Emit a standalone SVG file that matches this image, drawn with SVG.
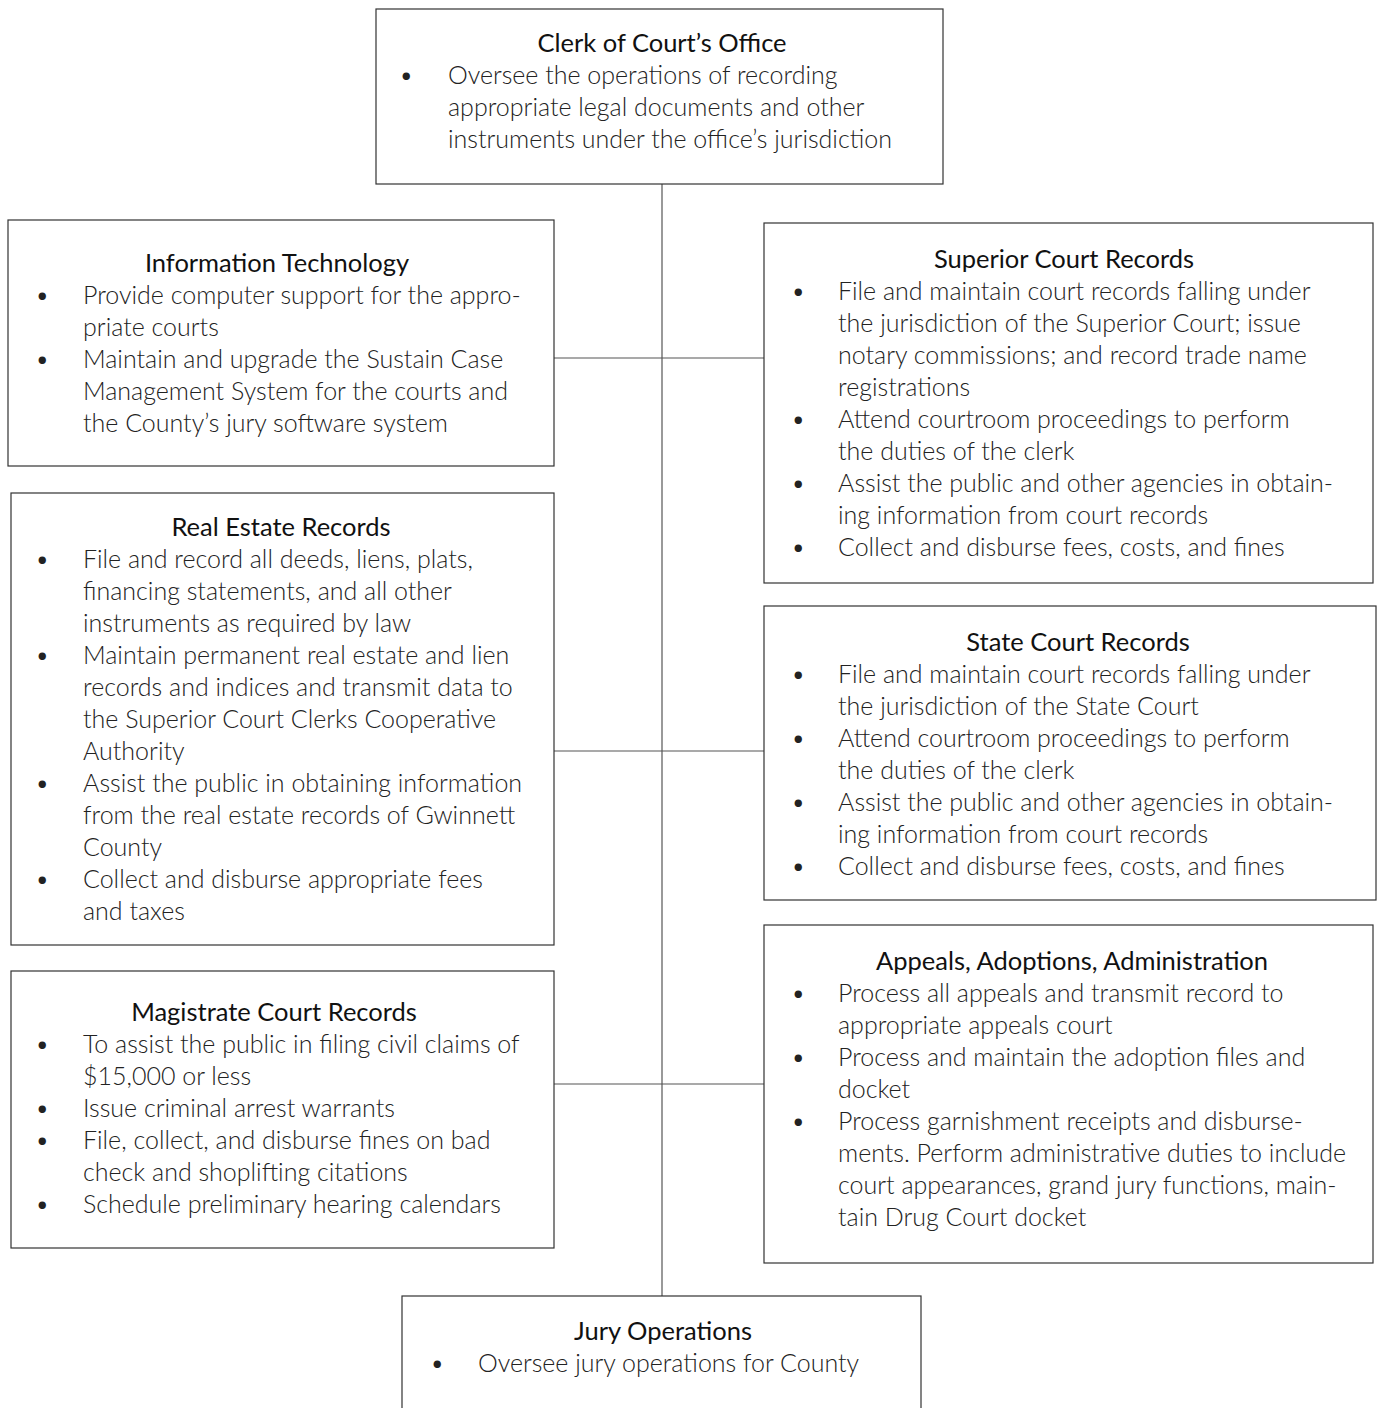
<svg xmlns="http://www.w3.org/2000/svg" width="1377" height="1408" viewBox="0 0 1377 1408">
  <style>
    .box { fill: #ffffff; stroke: #333333; stroke-width: 1.2; }
    .link { stroke: #555555; stroke-width: 1.2; fill: none; }
    .title { font-family: Lato, "Liberation Sans", sans-serif; font-size: 25.5px; fill: #111111; text-anchor: middle; }
    .body { font-family: Lato, "Liberation Sans", sans-serif; font-weight: 300; font-size: 25px; fill: #222222; }
  </style>
  <rect width="1377" height="1408" fill="#ffffff"/>

  <!-- connectors -->
  <g id="connectors">
    <line class="link" x1="662" y1="184" x2="662" y2="1296"/>
    <line class="link" x1="554" y1="358" x2="764" y2="358"/>
    <line class="link" x1="554" y1="751" x2="764" y2="751"/>
    <line class="link" x1="554" y1="1084" x2="764" y2="1084"/>
  </g>

  <g id="clerk">
    <rect class="box" x="376" y="9" width="567" height="175"/>
    <text class="title" x="662" y="52">Clerk of Court’s Office</text>
    <text class="body" x="399" y="84">•</text>
    <text class="body" x="448" y="84">Oversee the operations of recording</text>
    <text class="body" x="448" y="116">appropriate legal documents and other</text>
    <text class="body" x="448" y="148">instruments under the office’s jurisdiction</text>
  </g>

  <g id="info-tech">
    <rect class="box" x="8" y="220" width="546" height="246"/>
    <text class="title" x="277" y="272">Information Technology</text>
    <text class="body" x="35" y="304">•</text>
    <text class="body" x="83" y="304">Provide computer support for the appro-</text>
    <text class="body" x="83" y="336">priate courts</text>
    <text class="body" x="35" y="368">•</text>
    <text class="body" x="83" y="368">Maintain and upgrade the Sustain Case</text>
    <text class="body" x="83" y="400">Management System for the courts and</text>
    <text class="body" x="83" y="432">the County’s jury software system</text>
  </g>

  <g id="real-estate">
    <rect class="box" x="11" y="493" width="543" height="452"/>
    <text class="title" x="281" y="536">Real Estate Records</text>
    <text class="body" x="35" y="568">•</text>
    <text class="body" x="83" y="568">File and record all deeds, liens, plats,</text>
    <text class="body" x="83" y="600">financing statements, and all other</text>
    <text class="body" x="83" y="632">instruments as required by law</text>
    <text class="body" x="35" y="664">•</text>
    <text class="body" x="83" y="664">Maintain permanent real estate and lien</text>
    <text class="body" x="83" y="696">records and indices and transmit data to</text>
    <text class="body" x="83" y="728">the Superior Court Clerks Cooperative</text>
    <text class="body" x="83" y="760">Authority</text>
    <text class="body" x="35" y="792">•</text>
    <text class="body" x="83" y="792">Assist the public in obtaining information</text>
    <text class="body" x="83" y="824">from the real estate records of Gwinnett</text>
    <text class="body" x="83" y="856">County</text>
    <text class="body" x="35" y="888">•</text>
    <text class="body" x="83" y="888">Collect and disburse appropriate fees</text>
    <text class="body" x="83" y="920">and taxes</text>
  </g>

  <g id="magistrate">
    <rect class="box" x="11" y="971" width="543" height="277"/>
    <text class="title" x="274" y="1021">Magistrate Court Records</text>
    <text class="body" x="35" y="1053">•</text>
    <text class="body" x="83" y="1053">To assist the public in filing civil claims of</text>
    <text class="body" x="83" y="1085">$15,000 or less</text>
    <text class="body" x="35" y="1117">•</text>
    <text class="body" x="83" y="1117">Issue criminal arrest warrants</text>
    <text class="body" x="35" y="1149">•</text>
    <text class="body" x="83" y="1149">File, collect, and disburse fines on bad</text>
    <text class="body" x="83" y="1181">check and shoplifting citations</text>
    <text class="body" x="35" y="1213">•</text>
    <text class="body" x="83" y="1213">Schedule preliminary hearing calendars</text>
  </g>

  <g id="superior">
    <rect class="box" x="764" y="223" width="609" height="360"/>
    <text class="title" x="1064" y="268">Superior Court Records</text>
    <text class="body" x="791" y="300">•</text>
    <text class="body" x="838" y="300">File and maintain court records falling under</text>
    <text class="body" x="838" y="332">the jurisdiction of the Superior Court; issue</text>
    <text class="body" x="838" y="364">notary commissions; and record trade name</text>
    <text class="body" x="838" y="396">registrations</text>
    <text class="body" x="791" y="428">•</text>
    <text class="body" x="838" y="428">Attend courtroom proceedings to perform</text>
    <text class="body" x="838" y="460">the duties of the clerk</text>
    <text class="body" x="791" y="492">•</text>
    <text class="body" x="838" y="492">Assist the public and other agencies in obtain-</text>
    <text class="body" x="838" y="524">ing information from court records</text>
    <text class="body" x="791" y="556">•</text>
    <text class="body" x="838" y="556">Collect and disburse fees, costs, and fines</text>
  </g>

  <g id="state">
    <rect class="box" x="764" y="606" width="612" height="294"/>
    <text class="title" x="1078" y="651">State Court Records</text>
    <text class="body" x="791" y="683">•</text>
    <text class="body" x="838" y="683">File and maintain court records falling under</text>
    <text class="body" x="838" y="715">the jurisdiction of the State Court</text>
    <text class="body" x="791" y="747">•</text>
    <text class="body" x="838" y="747">Attend courtroom proceedings to perform</text>
    <text class="body" x="838" y="779">the duties of the clerk</text>
    <text class="body" x="791" y="811">•</text>
    <text class="body" x="838" y="811">Assist the public and other agencies in obtain-</text>
    <text class="body" x="838" y="843">ing information from court records</text>
    <text class="body" x="791" y="875">•</text>
    <text class="body" x="838" y="875">Collect and disburse fees, costs, and fines</text>
  </g>

  <g id="appeals">
    <rect class="box" x="764" y="925" width="609" height="338"/>
    <text class="title" x="1072" y="970">Appeals, Adoptions, Administration</text>
    <text class="body" x="791" y="1002">•</text>
    <text class="body" x="838" y="1002">Process all appeals and transmit record to</text>
    <text class="body" x="838" y="1034">appropriate appeals court</text>
    <text class="body" x="791" y="1066">•</text>
    <text class="body" x="838" y="1066">Process and maintain the adoption files and</text>
    <text class="body" x="838" y="1098">docket</text>
    <text class="body" x="791" y="1130">•</text>
    <text class="body" x="838" y="1130">Process garnishment receipts and disburse-</text>
    <text class="body" x="838" y="1162">ments. Perform administrative duties to include</text>
    <text class="body" x="838" y="1194">court appearances, grand jury functions, main-</text>
    <text class="body" x="838" y="1226">tain Drug Court docket</text>
  </g>

  <g id="jury">
    <rect class="box" x="402" y="1296" width="519" height="130"/>
    <text class="title" x="663" y="1340">Jury Operations</text>
    <text class="body" x="430" y="1372">•</text>
    <text class="body" x="478" y="1372">Oversee jury operations for County</text>
  </g>
</svg>
